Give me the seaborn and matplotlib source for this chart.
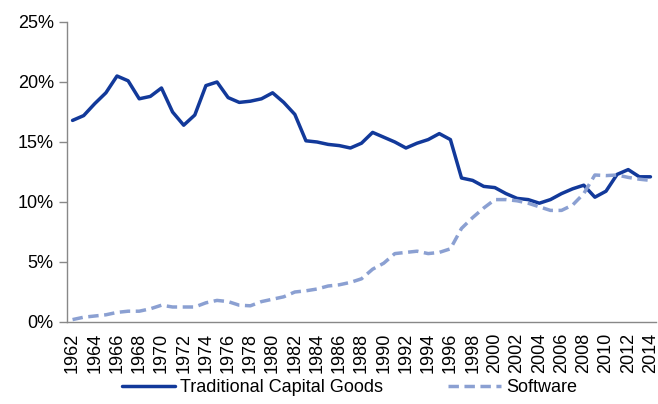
import numpy as np
import pandas as pd
import matplotlib.pyplot as plt
import matplotlib.ticker as mticker
import seaborn as sns

years = list(range(1962, 2015))

# share of investment, percent
traditional = [16.8, 17.2, 18.2, 19.1, 20.5, 20.1, 18.6, 18.8, 19.5, 17.5,
               16.4, 17.25, 19.7, 20.0, 18.7, 18.3, 18.4, 18.6, 19.1, 18.3,
               17.3, 15.1, 15.0, 14.8, 14.7, 14.5, 14.9, 15.8, 15.4, 15.0,
               14.5, 14.9, 15.2, 15.7, 15.2, 12.0, 11.8, 11.3, 11.2, 10.7,
               10.3, 10.2, 9.9, 10.2, 10.7, 11.1, 11.4, 10.4, 10.9, 12.3,
               12.7, 12.1, 12.1]
software = [0.2, 0.4, 0.5, 0.6, 0.8, 0.9, 0.9, 1.1, 1.4, 1.25,
            1.25, 1.25, 1.6, 1.8, 1.7, 1.4, 1.35, 1.7, 1.9, 2.1,
            2.5, 2.6, 2.75, 3.0, 3.1, 3.3, 3.6, 4.4, 4.9, 5.7,
            5.8, 5.9, 5.7, 5.8, 6.1, 7.8, 8.7, 9.5, 10.2, 10.2,
            10.1, 9.9, 9.6, 9.3, 9.3, 9.75, 10.7, 12.25, 12.2, 12.25,
            12.05, 11.9, 11.8]

df = pd.DataFrame({'year': years, 'Traditional Capital Goods': traditional, 'Software': software})

sns.set_style('white')
plt.rcParams['font.family'] = ['Liberation Sans', 'DejaVu Sans']

fig = plt.figure(figsize=(6.58, 4.04), dpi=100)
ax = fig.add_axes([67 / 658, 1 - 322 / 404, (656 - 67) / 658, 300 / 404])

sns.lineplot(data=df, x='year', y='Traditional Capital Goods', ax=ax, color='#12399a',
             linewidth=2.5, legend=False)
sns.lineplot(data=df, x='year', y='Software', ax=ax, color='#8ba0d2',
             linewidth=2.5, legend=False)
ax.lines[1].set_dashes([3, 1.6])

ax.set_xlim(1961.5, 2014.5)
ax.set_ylim(0, 25)
ax.set_xlabel('')
ax.set_ylabel('')

ax.yaxis.set_major_locator(mticker.MultipleLocator(5))
ax.yaxis.set_major_formatter(mticker.FuncFormatter(lambda v, p: f'{v:.0f}%'))
ax.xaxis.set_major_locator(mticker.FixedLocator(years[::2]))
ax.xaxis.set_minor_locator(mticker.FixedLocator(np.arange(1961.5, 2015, 1)))
ax.tick_params(axis='x', which='major', length=0, labelsize=13, rotation=90, pad=8,
               labelcolor='black')
ax.tick_params(axis='x', which='minor', length=6, color='#888888', width=1)
ax.tick_params(axis='y', which='major', length=6, color='#888888', width=1, labelsize=13,
               left=True, labelcolor='black')

sns.despine(ax=ax)
for s in ['left', 'bottom']:
    ax.spines[s].set_color('#888888')
    ax.spines[s].set_linewidth(1)

ax.legend(handles=ax.lines[:2], labels=['Traditional Capital Goods', 'Software'],
          loc='center', bbox_to_anchor=(0.48, -0.22), ncol=2, frameon=False,
          fontsize=13, handlelength=2.9, columnspacing=3.6, handletextpad=0.3,
          labelcolor='black')

fig.savefig('out.png', dpi=100)
